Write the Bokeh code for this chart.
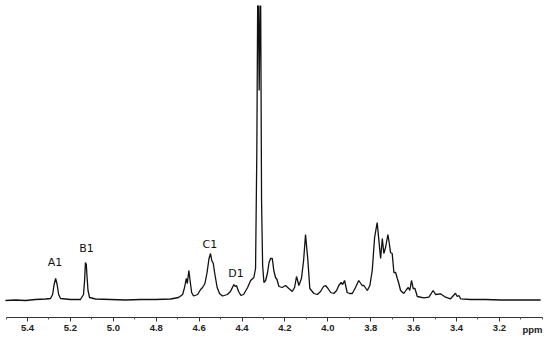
from bokeh.plotting import figure
from bokeh.models import Range1d, FixedTicker, Label, PrintfTickFormatter
from bokeh.core.properties import value
from bokeh.embed import file_html
from bokeh.resources import INLINE

# chemical shift (ppm) and intensity
ppm = [5.503, 5.456, 5.409, 5.363, 5.316, 5.293, 5.283, 5.276, 5.269, 5.262,
       5.255, 5.246, 5.200, 5.153, 5.139, 5.134, 5.130, 5.126, 5.123, 5.118,
       5.111, 5.083, 5.013, 4.943, 4.873, 4.803, 4.733, 4.696, 4.677, 4.668,
       4.660, 4.655, 4.648, 4.641, 4.635, 4.626, 4.607, 4.593, 4.584, 4.573,
       4.563, 4.554, 4.547, 4.541, 4.534, 4.528, 4.516, 4.505, 4.491, 4.468,
       4.454, 4.438, 4.432, 4.426, 4.416, 4.405, 4.393, 4.374, 4.360, 4.345,
       4.337, 4.331, 4.326, 4.320, 4.314, 4.309, 4.304, 4.298, 4.290, 4.281,
       4.274, 4.267, 4.259, 4.252, 4.244, 4.237, 4.228, 4.213, 4.197, 4.182,
       4.166, 4.155, 4.146, 4.135, 4.123, 4.113, 4.104, 4.093, 4.084, 4.065,
       4.049, 4.034, 4.020, 4.011, 3.999, 3.987, 3.972, 3.959, 3.949, 3.938,
       3.931, 3.922, 3.910, 3.899, 3.886, 3.871, 3.856, 3.840, 3.832, 3.816,
       3.804, 3.793, 3.782, 3.770, 3.762, 3.754, 3.746, 3.739, 3.731, 3.720,
       3.712, 3.708, 3.700, 3.692, 3.684, 3.676, 3.669, 3.661, 3.646, 3.633,
       3.625, 3.618, 3.610, 3.602, 3.594, 3.583, 3.552, 3.529, 3.509, 3.498,
       3.475, 3.451, 3.428, 3.405, 3.397, 3.389, 3.381, 3.335, 3.265, 3.195,
       3.102, 3.008]
intensity = [0, 0.5, 0, 1, 1.5, 2, 6, 16, 22, 16,
             6, 2, 1, 1, 6, 20, 38, 36, 25, 10,
             3, 1.5, 1, 0.5, 1, 1, 1.5, 3, 6, 13,
             22, 17, 30, 18, 8, 4.5, 6, 11, 13, 17,
             28, 42, 47, 40, 37, 28, 13, 7, 4.5, 6,
             9, 16, 14, 15, 9, 5, 6, 13, 20, 23,
             32, 150, 340, 210, 340, 100, 35, 18, 20, 28,
             38, 42, 42, 30, 23, 21, 14, 13, 15, 12,
             9, 13, 24, 15, 22, 40, 66, 40, 12, 7,
             6, 9, 14, 15, 12, 8, 7, 10, 15, 18,
             16, 20, 8, 7, 7, 13, 20, 15, 15, 10,
             15, 30, 63, 78, 60, 42, 62, 47, 53, 66,
             55, 48, 47, 28, 28, 22, 17, 10, 7, 11,
             13, 10, 20, 12, 12, 4, 2.7, 3.3, 10, 6,
             6.7, 3.3, 1.7, 7.3, 4, 5, 1.7, 1, 1, 0.5,
             0.5, 0.5]

major_ticks = [5.4, 5.2, 5.0, 4.8, 4.6, 4.4, 4.2, 4.0, 3.8, 3.6, 3.4, 3.2]
minor_ticks = [5.5, 5.3, 5.1, 4.9, 4.7, 4.5, 4.3, 4.1, 3.9, 3.7, 3.5, 3.3, 3.1, 3.0]

peak_labels = ["A1", "B1", "C1", "D1"]
label_ppm = [5.272, 5.125, 4.550, 4.428]
label_int = [38, 52, 56, 27]

unit_label = ["ppm"]
unit_ppm = [3.046]
unit_int = [-29]

p = figure(width=550, height=339, output_backend="svg", toolbar_location=None,
           x_range=Range1d(5.526, 2.962), y_range=Range1d(-39, 295),
           min_border_left=0, min_border_right=0, min_border_top=5, min_border_bottom=0)
p.background_fill_color = "white"
p.border_fill_color = "white"
p.outline_line_color = None
p.xgrid.visible = False
p.ygrid.visible = False
p.yaxis.visible = False

p.line(ppm, intensity, line_color="#111111", line_width=1.3)

ax = p.xaxis[0]
ax.fixed_location = -17
ax.bounds = (3.0, 5.5)
ax.ticker = FixedTicker(ticks=major_ticks, minor_ticks=minor_ticks)
ax.formatter = PrintfTickFormatter(format="%.1f")
ax.axis_line_color = "#333333"
ax.axis_line_width = 1
ax.major_tick_in = 0
ax.major_tick_out = 4
ax.minor_tick_in = 0
ax.minor_tick_out = 2
ax.major_tick_line_color = "#333333"
ax.minor_tick_line_color = "#555555"
ax.major_label_text_font = "Liberation Sans"
ax.major_label_text_font_style = "bold"
ax.major_label_text_font_size = "9.5px"
ax.major_label_text_color = "#222222"
ax.major_label_standoff = 3

for t, x, y in zip(peak_labels, label_ppm, label_int):
    p.add_layout(Label(x=x, y=y, text=t, text_align="center", text_baseline="middle",
                       text_font="DejaVu Sans", text_font_size="11px", text_color="#111111"))

p.text(x=unit_ppm, y=unit_int, text=unit_label, text_align="center", text_baseline="middle",
       text_font=value("Liberation Sans"), text_font_style="bold",
       text_font_size="9.5px", text_color="#222222")

open("out.html", "w").write(file_html(p, INLINE))
